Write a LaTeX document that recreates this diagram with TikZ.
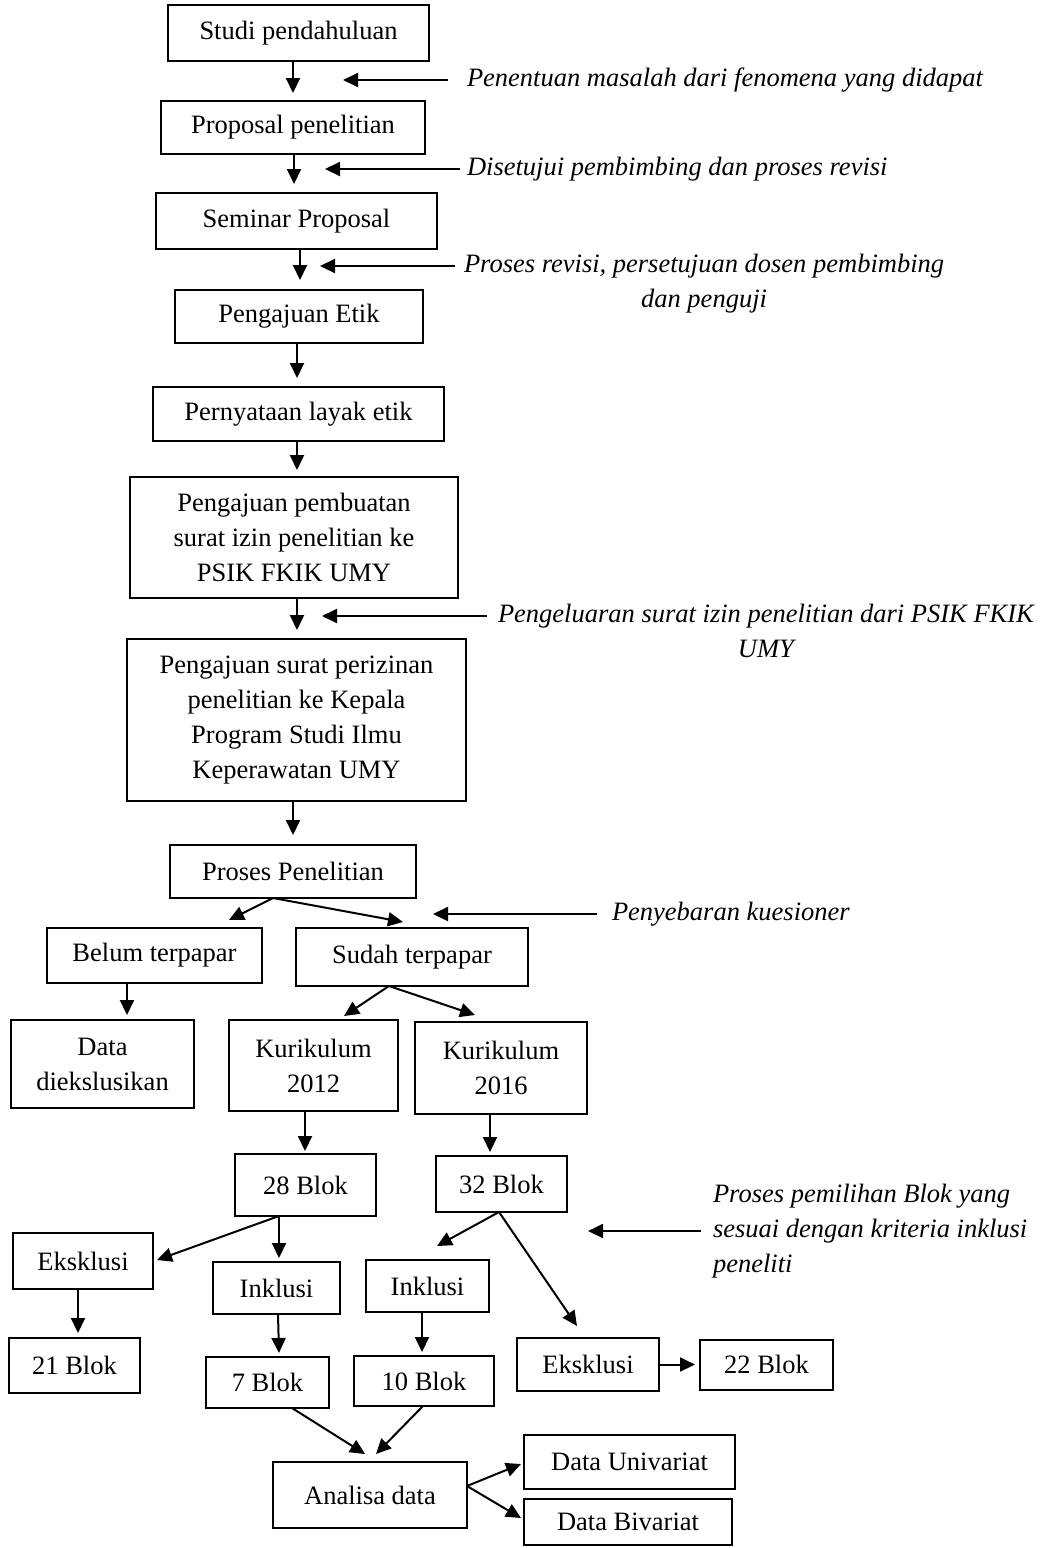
\documentclass[tikz,border=0pt]{standalone}
\usepackage{fontspec}
\setmainfont{Liberation Serif}
\usetikzlibrary{arrows.meta}
\begin{document}
\begin{tikzpicture}[x=1pt,y=-1pt,
  box/.style={draw, line width=2pt, inner sep=0pt, outer sep=0pt, align=center,
    font=\fontsize{26.5}{35}\selectfont},
  note/.style={inner sep=0pt, outer sep=0pt, font=\fontsize{26.5}{35}\selectfont\itshape},
  arr/.style={line width=2pt, -{Triangle[length=15pt,width=14pt]}}]
\fill[white] (0,0) rectangle (1056,1548);
\useasboundingbox (0,0) rectangle (1056,1548);

% main column
\node[box, minimum width=261pt, minimum height=56pt] (studi) at (298.5,33) {Studi pendahuluan};
\node[box, minimum width=264pt, minimum height=53pt] (proposal) at (293,127.5) {Proposal penelitian};
\node[box, minimum width=281pt, minimum height=56pt] (seminar) at (296.5,221) {Seminar Proposal};
\node[box, minimum width=248pt, minimum height=53pt] (etik) at (299,316.5) {Pengajuan Etik};
\node[box, minimum width=291pt, minimum height=54pt] (layak) at (298.5,414) {Pernyataan layak etik};
\node[box, minimum width=328pt, minimum height=121pt] (pembuatan) at (294,537.5) {Pengajuan pembuatan\\surat izin penelitian ke\\PSIK FKIK UMY};
\node[box, minimum width=339pt, minimum height=162pt] (perizinan) at (296.5,720) {Pengajuan surat perizinan\\penelitian ke Kepala\\Program Studi Ilmu\\Keperawatan UMY};
\node[box, minimum width=246pt, minimum height=53pt] (proses) at (293,871.5) {Proses Penelitian};

% branches
\node[box, minimum width=215pt, minimum height=55pt] (belum) at (154.5,955.5) {Belum terpapar};
\node[box, minimum width=232pt, minimum height=58pt] (sudah) at (412,957) {Sudah terpapar};
\node[box, minimum width=183pt, minimum height=88pt] (dataex) at (102.5,1064) {Data\\diekslusikan};
\node[box, minimum width=169pt, minimum height=91pt] (k2012) at (313.5,1065.5) {Kurikulum\\2012};
\node[box, minimum width=172pt, minimum height=92pt] (k2016) at (501,1068) {Kurikulum\\2016};
\node[box, minimum width=141pt, minimum height=62pt] (b28) at (305.5,1185) {28 Blok};
\node[box, minimum width=131pt, minimum height=56pt] (b32) at (501.5,1184) {32 Blok};
\node[box, minimum width=140pt, minimum height=56pt] (eksL) at (83,1261) {Eksklusi};
\node[box, minimum width=127pt, minimum height=52pt] (inkL) at (276.5,1288) {Inklusi};
\node[box, minimum width=123pt, minimum height=52pt] (inkR) at (427.5,1286) {Inklusi};
\node[box, minimum width=142pt, minimum height=53pt] (eksR) at (588,1364.5) {Eksklusi};
\node[box, minimum width=133pt, minimum height=50pt] (b22) at (766.5,1364.5) {22 Blok};
\node[box, minimum width=131pt, minimum height=55pt] (b21) at (74.5,1365.5) {21 Blok};
\node[box, minimum width=123pt, minimum height=51pt] (b7) at (267.5,1382.5) {7 Blok};
\node[box, minimum width=140pt, minimum height=50pt] (b10) at (424,1381) {10 Blok};
\node[box, minimum width=194pt, minimum height=66pt] (analisa) at (370,1495) {Analisa data};
\node[box, minimum width=211pt, minimum height=54pt] (univ) at (629.5,1462) {Data Univariat};
\node[box, minimum width=208pt, minimum height=46pt] (biv) at (628,1522) {Data Bivariat};

% annotations
\node[note, anchor=west] (n1) at (467,80) {Penentuan masalah dari fenomena yang didapat};
\node[note, anchor=west] (n2) at (467,169) {Disetujui pembimbing dan proses revisi};
\node[note, align=center, anchor=north west] (n3) at (464,254) {Proses revisi, persetujuan dosen pembimbing\\dan penguji};
\node[note, align=center, anchor=north west] (n4) at (498,604) {Pengeluaran surat izin penelitian dari PSIK FKIK\\UMY};
\node[note, anchor=west] (n5) at (612,914) {Penyebaran kuesioner};
\node[note, align=left, anchor=north west] (n6) at (713,1184) {Proses pemilihan Blok yang\\sesuai dengan kriteria inklusi\\peneliti};

\coordinate (t1) at (343,80);
\coordinate (t2) at (325,169);
\coordinate (t3) at (320,266);
\coordinate (t4) at (322,616);
\coordinate (t5) at (433,914);
\coordinate (t6) at (588,1230);

\draw[arr, shorten <=19pt] (n1.west) -- (n1.west -| t1);
\draw[arr, shorten <=7pt] (n2.west) -- (n2.west -| t2);
\draw[arr, shorten <=9pt] ([shift={(0,12)}]n3.north west) -- (t3);
\draw[arr, shorten <=11pt] ([shift={(0,12)}]n4.north west) -- (t4);
\draw[arr, shorten <=15pt] (n5.west) -- (n5.west -| t5);
\draw[arr, shorten <=12pt] (n6.west) -- (n6.west -| t6);

% vertical flow arrows
\draw[arr] ([shift={(-5.5,0)}]studi.south) -- ([shift={(0,-8)}]proposal.north);
\draw[arr] ([shift={(1,0)}]proposal.south) -- ([shift={(-2.5,-9)}]seminar.north);
\draw[arr] ([shift={(3.5,0)}]seminar.south) -- ([shift={(1,-10)}]etik.north);
\draw[arr] ([shift={(-2,0)}]etik.south) -- ([shift={(-1.5,-9)}]layak.north);
\draw[arr] ([shift={(-1.5,0)}]layak.south) -- ([shift={(3,-7)}]pembuatan.north);
\draw[arr] ([shift={(3,0)}]pembuatan.south) -- ([shift={(0.5,-9)}]perizinan.north);
\draw[arr] ([shift={(-3.5,0)}]perizinan.south) -- ([shift={(0,-10)}]proses.north);

% branch arrows
\draw[arr] ([shift={(-20,0)}]proses.south) -- ([shift={(74.5,-8)}]belum.north);
\draw[arr] ([shift={(-20,0)}]proses.south) -- ([shift={(-9,-6)}]sudah.north);
\draw[arr] ([shift={(-27.5,0)}]belum.south) -- ([shift={(24.5,-5)}]dataex.north);
\draw[arr] ([shift={(-23,0)}]sudah.south) -- ([shift={(30.5,-4)}]k2012.north);
\draw[arr] ([shift={(-23,0)}]sudah.south) -- ([shift={(-26,-7)}]k2016.north);
\draw[arr] ([shift={(-8.5,0)}]k2012.south) -- ([shift={(-0.5,-3)}]b28.north);
\draw[arr] ([shift={(-11,0)}]k2016.south) -- ([shift={(-11.5,-4)}]b32.north);
\draw[arr] ([shift={(-26.5,0)}]b28.south) -- ([shift={(4,-1)}]eksL.east);
\draw[arr] ([shift={(-26.5,0)}]b28.south) -- ([shift={(2.5,-4)}]inkL.north);
\draw[arr] ([shift={(-5,0)}]eksL.south) -- ([shift={(3.5,-5)}]b21.north);
\draw[arr] ([shift={(1.5,0)}]inkL.south) -- ([shift={(11.5,-4)}]b7.north);
\draw[arr] ([shift={(-2.5,0)}]b32.south) -- ([shift={(9.5,-14)}]inkR.north);
\draw[arr] ([shift={(-2.5,0)}]b32.south) -- ([shift={(-11,-12)}]eksR.north);
\draw[arr] ([shift={(-5.5,0)}]inkR.south) -- ([shift={(-2,-4)}]b10.north);
\draw[arr] (eksR.east) -- ([shift={(-5,0)}]b22.west);
\draw[arr] ([shift={(24.5,0)}]b7.south) -- ([shift={(-5,-8)}]analisa.north);
\draw[arr] ([shift={(-1,0)}]b10.south) -- ([shift={(6,-8)}]analisa.north);
\draw[arr] ([shift={(0,-9)}]analisa.east) -- ([shift={(-3,2)}]univ.west);
\draw[arr] ([shift={(0,-9)}]analisa.east) -- ([shift={(-3,-4)}]biv.west);
\end{tikzpicture}
\end{document}
